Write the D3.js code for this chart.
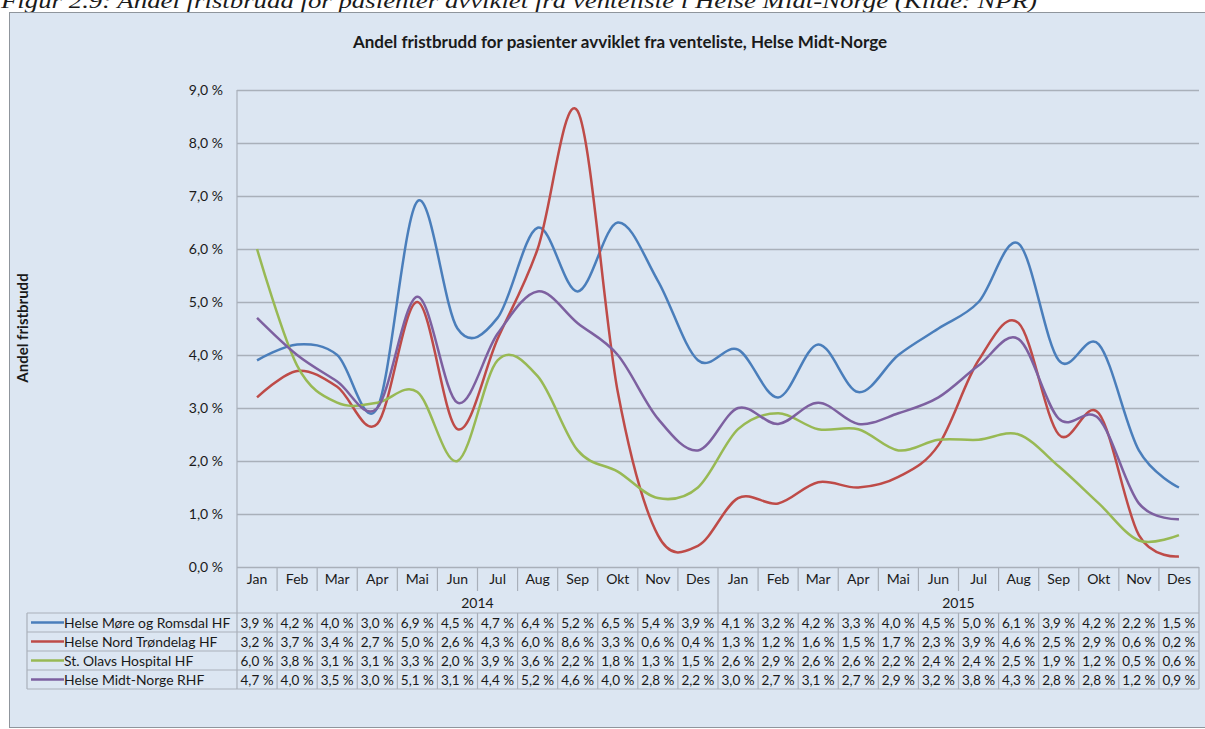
<!DOCTYPE html>
<html><head><meta charset="utf-8">
<script src="https://cdn.jsdelivr.net/npm/d3@7"></script>
<style>
html,body{margin:0;padding:0;background:#fff;overflow:hidden}
svg{display:block}
text{font-family:Lato,"Liberation Sans",sans-serif;fill:#1a1a1a}
</style></head>
<body><svg id="c" width="1205" height="729"></svg>
<script>
const caption = "Figur 2.9: Andel fristbrudd for pasienter avviklet fra venteliste i Helse Midt-Norge (Kilde: NPR)";
const title = "Andel fristbrudd for pasienter avviklet fra venteliste, Helse Midt-Norge";
const yTitle = "Andel fristbrudd";
const months = ["Jan","Feb","Mar","Apr","Mai","Jun","Jul","Aug","Sep","Okt","Nov","Des"];
const years = ["2014","2015"];
const yTicks = [0,1,2,3,4,5,6,7,8,9];
const seriesNames = ["Helse Møre og Romsdal HF","Helse Nord Trøndelag HF","St. Olavs Hospital HF","Helse Midt-Norge RHF"];
const seriesColors = ["#4a7ebb","#be4b48","#98b954","#7d60a0"];
const moreRomsdal = [3.9,4.2,4.0,3.0,6.9,4.5,4.7,6.4,5.2,6.5,5.4,3.9,4.1,3.2,4.2,3.3,4.0,4.5,5.0,6.1,3.9,4.2,2.2,1.5];
const nordTrondelag = [3.2,3.7,3.4,2.7,5.0,2.6,4.3,6.0,8.6,3.3,0.6,0.4,1.3,1.2,1.6,1.5,1.7,2.3,3.9,4.6,2.5,2.9,0.6,0.2];
const stOlavs = [6.0,3.8,3.1,3.1,3.3,2.0,3.9,3.6,2.2,1.8,1.3,1.5,2.6,2.9,2.6,2.6,2.2,2.4,2.4,2.5,1.9,1.2,0.5,0.6];
const midtNorge = [4.7,4.0,3.5,3.0,5.1,3.1,4.4,5.2,4.6,4.0,2.8,2.2,3.0,2.7,3.1,2.7,2.9,3.2,3.8,4.3,2.8,2.8,1.2,0.9];
const seriesValues = [moreRomsdal, nordTrondelag, stOlavs, midtNorge];

const svg = d3.select("#c");
const categories = d3.range(years.length * months.length);
const x = d3.scaleBand().domain(categories).range([237,1199]).paddingInner(0).paddingOuter(0);
const y = d3.scaleLinear().domain([0,9]).range([567,90]);
const fmt = v => d3.format(".1f")(v).replace(".", ",") + " %";
const gridColor = "#a9b0ba";

// caption (partly cut off at the top, as in the source)
svg.append("text").attr("x",1).attr("y",8)
  .style("font-family","'Liberation Serif',serif").style("font-style","italic")
  .style("font-size","21px").attr("textLength",1036).attr("lengthAdjust","spacingAndGlyphs")
  .text(caption);

// chart area
svg.append("rect").attr("x",9.5).attr("y",12.5).attr("width",1210).attr("height",715)
  .attr("fill","#dce6f2").attr("stroke","#8f959c").attr("stroke-width",1);

svg.append("text").attr("x",620).attr("y",48).attr("text-anchor","middle")
  .style("font-size","17px").style("font-weight","bold").text(title);

svg.append("text").attr("transform","translate(28,328) rotate(-90)").attr("text-anchor","middle")
  .style("font-size","15px").style("font-weight","bold").text(yTitle);

// y axis with gridlines
const yAxis = d3.axisLeft(y).tickValues(yTicks).tickFormat(fmt).tickSize(-(1199-237)).tickPadding(14);
const gy = svg.append("g").attr("transform","translate(237,0)").call(yAxis);
gy.select(".domain").remove();
gy.selectAll(".tick line").attr("stroke",gridColor).attr("stroke-width",1.4);
gy.selectAll(".tick text").style("font-size","14px").style("font-family","Lato,sans-serif").attr("fill","#1a1a1a");

// vertical axis line
svg.append("line").attr("x1",237).attr("x2",237).attr("y1",90).attr("y2",689).attr("stroke",gridColor).attr("stroke-width",1.2);

// category axis: month labels
const bw = x.bandwidth();
const gx = svg.append("g");
categories.forEach(i => {
  gx.append("text").attr("x",x(i)+bw/2).attr("y",584).attr("text-anchor","middle")
    .style("font-size","14px").text(months[i % 12]);
  if (i > 0) {
    const full = (i % 12 === 0);
    gx.append("line").attr("x1",x(i)).attr("x2",x(i)).attr("y1",567).attr("y2", full ? 689 : 591)
      .attr("stroke",gridColor).attr("stroke-width",1.2);
    if (!full) gx.append("line").attr("x1",x(i)).attr("x2",x(i)).attr("y1",613).attr("y2",689)
      .attr("stroke",gridColor).attr("stroke-width",1.2);
  }
});
years.forEach((yr,k) => {
  const x0 = x(k*12), x1 = x(k*12+11)+bw;
  gx.append("text").attr("x",(x0+x1)/2).attr("y",608).attr("text-anchor","middle")
    .style("font-size","14px").text(yr);
});
svg.append("line").attr("x1",1199).attr("x2",1199).attr("y1",567).attr("y2",689).attr("stroke",gridColor).attr("stroke-width",1.2);

// data table
const rowTop = 613, rowH = 19;
const tbl = svg.append("g");
for (let r = 0; r <= seriesNames.length; r++) {
  tbl.append("line").attr("x1",27).attr("x2",1199).attr("y1",rowTop+r*rowH).attr("y2",rowTop+r*rowH)
    .attr("stroke",gridColor).attr("stroke-width",1.2);
}
tbl.append("line").attr("x1",27).attr("x2",27).attr("y1",rowTop).attr("y2",rowTop+4*rowH)
  .attr("stroke",gridColor).attr("stroke-width",1.2);
seriesNames.forEach((nm,r) => {
  const cy = rowTop + r*rowH + rowH/2;
  tbl.append("line").attr("x1",31).attr("x2",64).attr("y1",cy).attr("y2",cy)
    .attr("stroke",seriesColors[r]).attr("stroke-width",2.5);
  tbl.append("text").attr("x",64).attr("y",cy+5).style("font-size","13.9px").text(nm);
  seriesValues[r].forEach((v,i) => {
    tbl.append("text").attr("x",x(i)+bw/2).attr("y",cy+5).attr("text-anchor","middle")
      .style("font-size","13.5px").text(fmt(v));
  });
});

// lines
const line = d3.line().x((d,i) => x(i)+bw/2).y(d => y(d)).curve(d3.curveCardinal.tension(0));
seriesValues.forEach((vals,k) => {
  svg.append("path").datum(vals).attr("d",line).attr("fill","none")
    .attr("stroke",seriesColors[k]).attr("stroke-width",2.5).attr("stroke-linejoin","round");
});
</script></body></html>
